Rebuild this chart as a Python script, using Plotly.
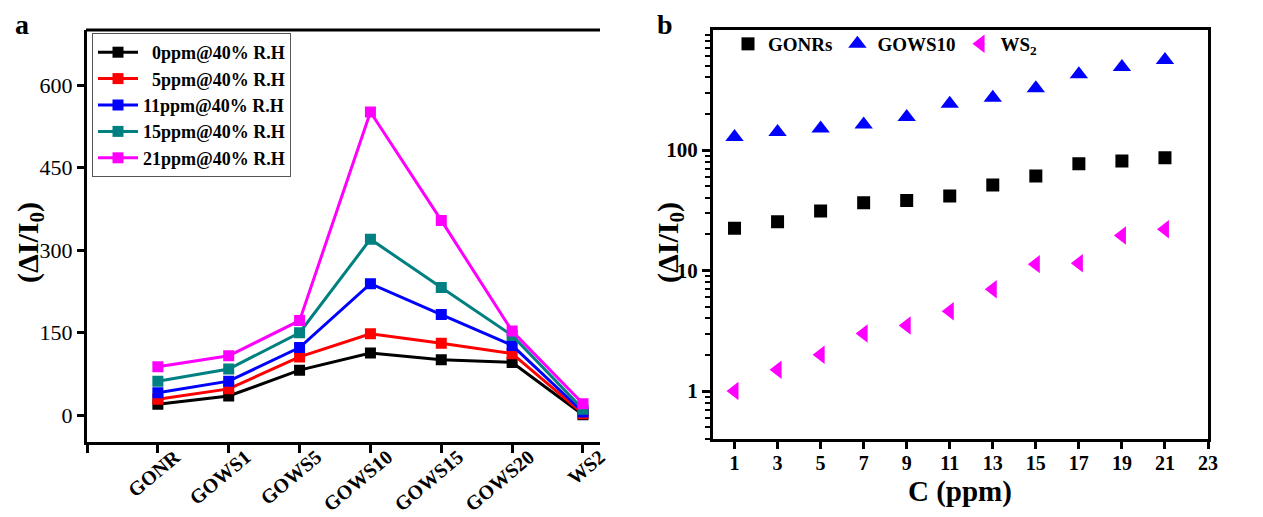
import plotly.graph_objects as go
import numpy as np

# ---- Panel a data ----
categories = ["GONR", "GOWS1", "GOWS5", "GOWS10", "GOWS15", "GOWS20", "WS2"]
series_names = ["0ppm@40% R.H", "5ppm@40% R.H", "11ppm@40% R.H", "15ppm@40% R.H", "21ppm@40% R.H"]
ppm0 = [20, 35, 82, 113, 101, 96, 1]
ppm5 = [29, 48, 106, 148, 131, 112, 3]
ppm11 = [41, 62, 123, 239, 183, 127, 6]
ppm15 = [62, 84, 150, 320, 232, 145, 11]
ppm21 = [88, 108, 172, 551, 354, 153, 21]
colors_a = ["#000000", "#ff0000", "#0000ff", "#008080", "#ff00ff"]

# ---- Panel b data ----
conc = [1, 3, 5, 7, 9, 11, 13, 15, 17, 19, 21]
gonrs = [22.4, 25.4, 31.2, 36.5, 38.2, 41.5, 51.3, 60.8, 76.9, 81.1, 86.3]
gows10 = [128, 141, 151, 163, 188, 242, 272, 325, 425, 489, 558]
ws2 = [1.0, 1.5, 2.0, 3.0, 3.5, 4.6, 7.0, 11.3, 11.5, 19.5, 22.0]

W, H = 1263, 517
def fx(px): return px / W
def fy(py): return 1 - py / H

FONT = "Liberation Serif"

fig = go.Figure()

xidx = list(range(len(categories)))
pad = ["\u00a0\u00a0", "\u00a0\u00a0", "", "", ""]
for name, vals, col, p in zip(series_names, [ppm0, ppm5, ppm11, ppm15, ppm21], colors_a, pad):
    fig.add_trace(go.Scatter(
        x=xidx, y=vals, mode="lines+markers", name=p + name,
        line=dict(color=col, width=3),
        marker=dict(symbol="square", size=11, color=col),
        xaxis="x", yaxis="y", legend="legend"))

fig.add_trace(go.Scatter(x=conc, y=gonrs, mode="markers", name="GONRs",
                         marker=dict(symbol="square", size=13, color="#000000"),
                         xaxis="x2", yaxis="y2", legend="legend2"))
fig.add_trace(go.Scatter(x=conc, y=gows10, mode="markers", name="GOWS10",
                         marker=dict(symbol="triangle-up", size=16, color="#0000ff"),
                         xaxis="x2", yaxis="y2", legend="legend2"))
fig.add_trace(go.Scatter(x=conc, y=ws2, mode="markers", name="WS<sub>2</sub>",
                         marker=dict(symbol="triangle-left", size=16, color="#ff00ff"),
                         xaxis="x2", yaxis="y2", legend="legend2"))

axis_common = dict(showgrid=False, zeroline=False, showline=True, linecolor="black",
                   linewidth=3, ticks="outside", tickcolor="black", tickwidth=2.5,
                   automargin=False)

minor_vals = [m * 10.0 ** e for e in range(-1, 3) for m in range(2, 10)]
minor_vals = [v for v in minor_vals if 0.4 <= v <= 1000]

fig.update_layout(
    width=W, height=H,
    margin=dict(l=0, r=0, t=0, b=0, autoexpand=False),
    paper_bgcolor="white", plot_bgcolor="white",
    font=dict(family=FONT, color="black"),
    xaxis=dict(**axis_common, domain=[fx(87), fx(600)], range=[-1, 6.24],
               tickvals=[-1] + xidx, ticktext=[""] + categories, ticklen=8,
               tickangle=-40, tickfont=dict(size=20, family=FONT, weight="bold"),
               ticklabelshift=17, ticklabelstandoff=-15,
               mirror=False, anchor="y"),
    yaxis=dict(**axis_common, domain=[fy(441.7), fy(30)], range=[-48, 700],
               tickvals=[0, 150, 300, 450, 600], ticklen=7,
               tickfont=dict(size=22, family=FONT), anchor="x"),
    xaxis2=dict(**axis_common, domain=[fx(713), fx(1208)], range=[0, 23],
                tickvals=list(range(1, 24, 2)), ticklen=7, mirror=True,
                ticklabelstandoff=-3,
                tickfont=dict(size=20, family=FONT, weight="bold"), anchor="y2"),
    yaxis2=dict(**axis_common, type="log", domain=[fy(439), fy(29.5)],
                range=[np.log10(0.4), 3], tickvals=[1, 10, 100], ticktext=["1", "10", "100"],
                ticklen=8, mirror=True,
                minor=dict(tickmode="array", tickvals=minor_vals, ticks="outside", ticklen=5,
                           tickwidth=2, tickcolor="black", showgrid=False),
                tickfont=dict(size=21, family=FONT, weight="bold"), anchor="x2"),
    legend=dict(x=fx(92), y=fy(33), xanchor="left", yanchor="top",
                bordercolor="#555555", borderwidth=1, bgcolor="white",
                font=dict(size=18, family=FONT, weight="bold"),
                tracegroupgap=0, itemwidth=40),
    legend2=dict(x=fx(728), y=fy(44), xanchor="left", yanchor="middle",
                 orientation="h", bgcolor="rgba(0,0,0,0)",
                 font=dict(size=19, family=FONT, weight="bold"), itemwidth=30),
    showlegend=True,
)

# top border line for panel a
fig.add_shape(type="line", xref="paper", yref="paper",
              x0=fx(86), x1=fx(600), y0=fy(30), y1=fy(30),
              line=dict(color="black", width=3))

annotations = [
    dict(text="a", x=fx(22), y=fy(25), font=dict(size=28, weight="bold")),
    dict(text="b", x=fx(665), y=fy(25), font=dict(size=28, weight="bold")),
    dict(text="(ΔI/I<sub>0</sub>)", x=fx(30), y=fy(243), textangle=-90, font=dict(size=30, weight="bold")),
    dict(text="(ΔI/I<sub>0</sub>)", x=fx(670), y=fy(243), textangle=-90, font=dict(size=30, weight="bold")),
    dict(text="C (ppm)", x=fx(960), y=fy(491), font=dict(size=29, weight="bold")),
]
for a in annotations:
    a.update(xref="paper", yref="paper", showarrow=False, xanchor="center", yanchor="middle")
    a["font"]["family"] = FONT
    a["font"]["color"] = "black"
fig.update_layout(annotations=annotations)

fig.write_html("out.html")
